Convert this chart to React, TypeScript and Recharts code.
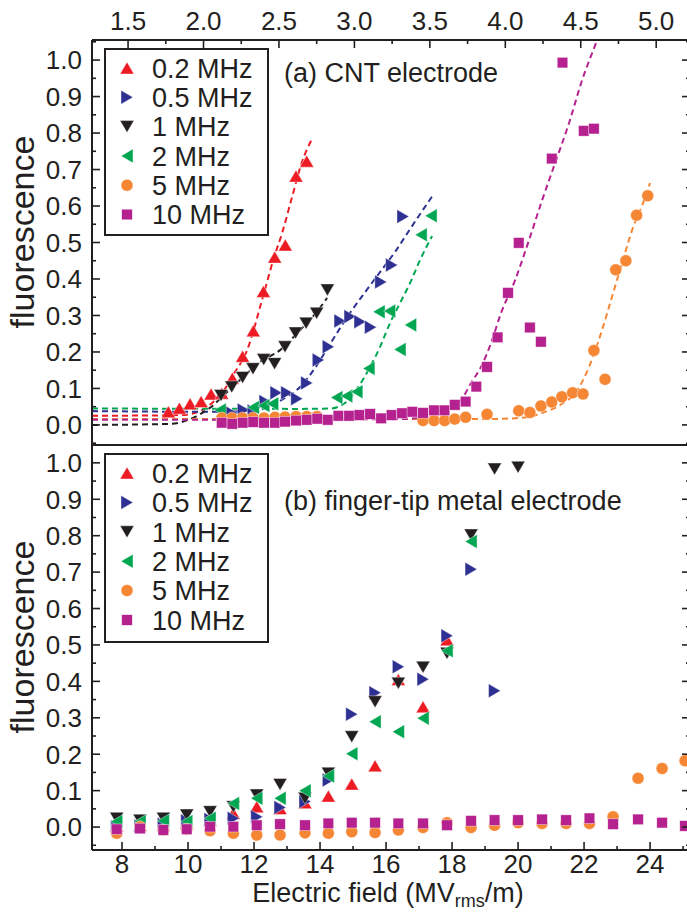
import React from 'react'
import { ComposedChart, Scatter, Line, XAxis, YAxis } from 'recharts'

const FONT = '"Liberation Sans", Arial, Helvetica, sans-serif'
const AXIS = '#231F20'

const RED = '#ED1C24'
const BLUE = '#2E3192'
const BLACK = '#231F20'
const GREEN = '#00A651'
const ORANGE = '#F58634'
const MAGENTA = '#B5218E'

const freqLabels = ['0.2 MHz', '0.5 MHz', '1 MHz', '2 MHz', '5 MHz', '10 MHz']

// axis ticks
const voltMajor = [1.5, 2.0, 2.5, 3.0, 3.5, 4.0, 4.5, 5.0]
const voltMinor = [1.75, 2.25, 2.75, 3.25, 3.75, 4.25, 4.75]
const fieldMajor = [8, 10, 12, 14, 16, 18, 20, 22, 24]
const fieldMinor = [9, 11, 13, 15, 17, 19, 21, 23, 25]
const fluorMajor = [0, 0.1, 0.2, 0.3, 0.4, 0.5, 0.6, 0.7, 0.8, 0.9, 1.0]
const fluorMinorTop = [-0.05, 0.05, 0.15, 0.25, 0.35, 0.45, 0.55, 0.65, 0.75, 0.85, 0.95, 1.05]
const fluorMinorBottom = [-0.05, 0.05, 0.15, 0.25, 0.35, 0.45, 0.55, 0.65, 0.75, 0.85, 0.95]

// (a) CNT electrode, plotted against the top (voltage) scale
const cntRedX = [1.767, 1.84, 1.911, 1.984, 2.05, 2.121, 2.191, 2.259, 2.33, 2.397, 2.472, 2.542, 2.613, 2.684]
const cntRedY = [0.036, 0.046, 0.058, 0.064, 0.085, 0.087, 0.128, 0.188, 0.258, 0.366, 0.46, 0.493, 0.682, 0.723]
const cntBlueX = [2.187, 2.264, 2.33, 2.408, 2.481, 2.552, 2.618, 2.684, 2.761, 2.827, 2.905, 2.971, 3.037, 3.107, 3.175, 3.247, 3.322]
const cntBlueY = [0.033, 0.041, 0.038, 0.064, 0.088, 0.088, 0.072, 0.115, 0.178, 0.214, 0.285, 0.297, 0.283, 0.268, 0.392, 0.438, 0.571]
const cntBlackX = [2.116, 2.187, 2.259, 2.328, 2.399, 2.471, 2.54, 2.61, 2.68, 2.75, 2.821]
const cntBlackY = [0.081, 0.104, 0.13, 0.154, 0.179, 0.168, 0.214, 0.252, 0.279, 0.306, 0.37]
const cntGreenX = [2.11, 2.33, 2.399, 2.458, 2.883, 2.949, 3.016, 3.096, 3.163, 3.233, 3.302, 3.372, 3.442, 3.508]
const cntGreenY = [0.041, 0.048, 0.053, 0.058, 0.075, 0.079, 0.091, 0.155, 0.31, 0.312, 0.207, 0.274, 0.521, 0.573]
const cntOrangeX = [2.121, 2.189, 2.259, 2.328, 2.401, 2.474, 2.54, 2.613, 2.684, 2.752, 3.455, 3.528, 3.598, 3.665, 3.737, 3.879, 4.089, 4.163, 4.236, 4.308, 4.375, 4.446, 4.515, 4.587, 4.661, 4.732, 4.799, 4.87, 4.944]
const cntOrangeY = [0.019, 0.019, 0.019, 0.019, 0.019, 0.021, 0.022, 0.023, 0.023, 0.023, 0.012, 0.012, 0.012, 0.016, 0.021, 0.029, 0.039, 0.034, 0.052, 0.063, 0.077, 0.088, 0.085, 0.204, 0.125, 0.425, 0.45, 0.575, 0.628]
const cntMagentaX = [2.121, 2.191, 2.26, 2.33, 2.401, 2.474, 2.54, 2.613, 2.684, 2.754, 2.823, 2.894, 2.965, 3.033, 3.104, 3.177, 3.246, 3.316, 3.384, 3.455, 3.528, 3.597, 3.665, 3.737, 3.808, 3.879, 3.949, 4.018, 4.089, 4.163, 4.236, 4.308, 4.379, 4.52, 4.587]
const cntMagentaY = [0.006, 0.003, 0.006, 0.008, 0.006, 0.006, 0.009, 0.012, 0.014, 0.017, 0.014, 0.025, 0.025, 0.027, 0.03, 0.018, 0.027, 0.032, 0.036, 0.033, 0.04, 0.04, 0.055, 0.064, 0.105, 0.159, 0.24, 0.362, 0.499, 0.267, 0.228, 0.73, 0.993, 0.806, 0.812]

// fitted curves (dashed)
const fitRedX = [1.261, 1.845, 1.977, 2.077, 2.143, 2.189, 2.289, 2.395, 2.468, 2.521, 2.587, 2.653, 2.719]
const fitRedY = [0.025, 0.027, 0.038, 0.068, 0.099, 0.132, 0.205, 0.353, 0.46, 0.526, 0.625, 0.721, 0.784]
const fitBlueX = [1.261, 1.977, 2.308, 2.441, 2.54, 2.64, 2.739, 2.839, 2.971, 3.071, 3.17, 3.269, 3.369, 3.521]
const fitBlueY = [0.038, 0.036, 0.038, 0.052, 0.074, 0.104, 0.156, 0.222, 0.307, 0.364, 0.419, 0.474, 0.537, 0.63]
const fitBlackX = [1.261, 1.778, 1.944, 2.043, 2.143, 2.242, 2.375, 2.507, 2.64, 2.739, 2.819]
const fitBlackY = [0.0, 0.003, 0.022, 0.047, 0.085, 0.123, 0.173, 0.205, 0.26, 0.304, 0.348]
const fitGreenX = [1.261, 2.64, 2.839, 2.938, 3.018, 3.104, 3.17, 3.236, 3.302, 3.369, 3.435, 3.515]
const fitGreenY = [0.045, 0.044, 0.045, 0.06, 0.099, 0.159, 0.214, 0.279, 0.334, 0.389, 0.452, 0.518]
const fitOrangeX = [1.261, 3.833, 4.098, 4.244, 4.376, 4.469, 4.555, 4.641, 4.707, 4.774, 4.847, 4.913, 4.959]
const fitOrangeY = [0.016, 0.016, 0.019, 0.033, 0.058, 0.09, 0.159, 0.26, 0.351, 0.444, 0.542, 0.608, 0.663]
const fitMagentaX = [1.261, 3.303, 3.501, 3.634, 3.707, 3.773, 3.839, 3.906, 3.972, 4.065, 4.151, 4.244, 4.33, 4.422, 4.509, 4.601, 4.628]
const fitMagentaY = [0.014, 0.016, 0.025, 0.047, 0.068, 0.115, 0.159, 0.225, 0.307, 0.397, 0.499, 0.616, 0.718, 0.827, 0.945, 1.047, 1.077]

// (b) finger-tip metal electrode, against electric field (MV/m)
const tipX = [7.839, 8.545, 9.252, 9.961, 10.667, 11.373, 12.082, 12.788, 13.545, 14.252, 14.961, 15.667, 16.373, 17.121, 17.848, 18.576, 19.288, 20.0, 20.727, 21.455, 22.164, 22.879, 23.636, 24.364, 25.06]
const tipRedY = [0.003, 0.005, 0.005, 0.011, 0.019, 0.038, 0.056, 0.051, 0.067, 0.085, 0.118, 0.168, 0.405, 0.33, 0.514]
const tipBlueY = [0.001, 0.003, 0.008, 0.017, 0.021, 0.024, 0.028, 0.054, 0.07, 0.129, 0.31, 0.369, 0.44, 0.406, 0.525, 0.708, 0.374]
const tipBlackY = [0.024, 0.019, 0.024, 0.033, 0.042, 0.056, 0.088, 0.117, 0.079, 0.148, 0.248, 0.344, 0.395, 0.439, 0.477, 0.802, 0.983, 0.988]
const tipGreenY = [0.015, 0.015, 0.017, 0.015, 0.024, 0.065, 0.079, 0.079, 0.1, 0.14, 0.201, 0.289, 0.262, 0.299, 0.484, 0.784]
const tipOrangeY = [-0.017, 0.001, -0.008, -0.006, -0.01, -0.017, -0.022, -0.022, -0.016, -0.017, -0.013, -0.015, -0.008, -0.001, 0.012, -0.001, 0.005, 0.012, 0.01, 0.01, 0.01, 0.028, 0.134, 0.161, 0.182]
const tipMagentaY = [-0.006, -0.004, -0.008, -0.006, 0.001, 0.001, 0.005, 0.008, 0.005, 0.01, 0.012, 0.012, 0.01, 0.01, 0.005, 0.017, 0.019, 0.019, 0.021, 0.019, 0.024, 0.008, 0.021, 0.012, 0.003]

const zip = (xs: number[], ys: number[]) => ys.map((y, i) => ({ x: xs[i], y }))

type Kind = 'up' | 'right' | 'down' | 'left' | 'circle' | 'square'

const kinds: Kind[] = ['up', 'right', 'down', 'left', 'circle', 'square']
const colors = [RED, BLUE, BLACK, GREEN, ORANGE, MAGENTA]

const cntPoints = [
  zip(cntRedX, cntRedY),
  zip(cntBlueX, cntBlueY),
  zip(cntBlackX, cntBlackY),
  zip(cntGreenX, cntGreenY),
  zip(cntOrangeX, cntOrangeY),
  zip(cntMagentaX, cntMagentaY),
]
const cntFits = [
  zip(fitRedX, fitRedY),
  zip(fitBlueX, fitBlueY),
  zip(fitBlackX, fitBlackY),
  zip(fitGreenX, fitGreenY),
  zip(fitOrangeX, fitOrangeY),
  zip(fitMagentaX, fitMagentaY),
]
const tipPoints = [tipRedY, tipBlueY, tipBlackY, tipGreenY, tipOrangeY, tipMagentaY].map((ys) => zip(tipX, ys))

function Marker({ kind, cx, cy, color }: { kind: Kind; cx: number; cy: number; color: string }) {
  const s = 14
  const h = 12
  const common = { fill: color, stroke: '#fff', strokeWidth: 0.6, strokeOpacity: 0.7 }
  switch (kind) {
    case 'up':
      return <polygon {...common} points={`${cx},${cy - h / 2} ${cx - s / 2},${cy + h / 2} ${cx + s / 2},${cy + h / 2}`} />
    case 'down':
      return <polygon {...common} points={`${cx},${cy + h / 2} ${cx - s / 2},${cy - h / 2} ${cx + s / 2},${cy - h / 2}`} />
    case 'right':
      return <polygon {...common} points={`${cx + h / 2},${cy} ${cx - h / 2},${cy - s / 2} ${cx - h / 2},${cy + s / 2}`} />
    case 'left':
      return <polygon {...common} points={`${cx - h / 2},${cy} ${cx + h / 2},${cy - s / 2} ${cx + h / 2},${cy + s / 2}`} />
    case 'circle':
      return <circle {...common} cx={cx} cy={cy} r={6} />
    default:
      return <rect {...common} x={cx - 5.3} y={cy - 5.3} width={10.6} height={10.6} />
  }
}

type Side = 'left' | 'right' | 'top' | 'bottom'

// inward ticks drawn by hand so the labels can sit outside the frame
function tickRenderer(side: Side, majors: number[], gap: number, fmt: ((v: number) => string) | null) {
  return (props: any) => {
    const { x, y, payload } = props
    const v = Number(payload.value)
    const isMajor = majors.some((m) => Math.abs(m - v) < 1e-6)
    const len = isMajor ? 8 : 4
    const ln = { stroke: AXIS, strokeWidth: 1.6 }
    const txt = { fontFamily: FONT, fontSize: 26, fill: '#231F20' }
    let line = null
    let label = null
    if (side === 'left') {
      const fx = x + gap
      line = <line {...ln} x1={fx} y1={y} x2={fx + len} y2={y} />
      if (fmt && isMajor) label = <text {...txt} x={x} y={y} dy="0.36em" textAnchor="end">{fmt(v)}</text>
    } else if (side === 'right') {
      const fx = x - gap
      line = <line {...ln} x1={fx} y1={y} x2={fx - len} y2={y} />
    } else if (side === 'top') {
      const fy = y + gap
      line = <line {...ln} x1={x} y1={fy} x2={x} y2={fy + len} />
      if (fmt && isMajor) label = <text {...txt} x={x} y={y} textAnchor="middle">{fmt(v)}</text>
    } else {
      const fy = y - gap
      line = <line {...ln} x1={x} y1={fy} x2={x} y2={fy - len} />
      if (fmt && isMajor) label = <text {...txt} x={x} y={y} dy="0.72em" textAnchor="middle">{fmt(v)}</text>
    }
    return (
      <g>
        {line}
        {label}
      </g>
    )
  }
}

const axisLine = { stroke: AXIS, strokeWidth: 2 }
const oneDecimal = (v: number) => v.toFixed(1)
const integer = (v: number) => String(Math.round(v))

const voltDomain: [number, number] = [1.261, 5.224]
const fieldDomain: [number, number] = [7.09, 25.21]
const cntFluorDomain: [number, number] = [-0.055, 1.055]
const tipFluorDomain: [number, number] = [-0.063, 1.049]

// axes are 1px thick so the plot box sits exactly inside the margins
function CntPanel() {
  return (
    <ComposedChart width={700} height={446} margin={{ top: 39, right: 9, bottom: 0, left: 91 }}>
      <XAxis
        xAxisId="v"
        dataKey="x"
        type="number"
        orientation="top"
        domain={voltDomain}
        allowDataOverflow
        ticks={[...voltMajor, ...voltMinor]}
        interval={0}
        height={1}
        tickSize={0}
        tickMargin={10}
        tickLine={false}
        axisLine={axisLine}
        tick={tickRenderer('top', voltMajor, 10, oneDecimal)}
      />
      <XAxis
        xAxisId="vb"
        type="number"
        orientation="bottom"
        domain={voltDomain}
        allowDataOverflow
        ticks={[...voltMajor, ...voltMinor]}
        interval={0}
        height={1}
        tickSize={0}
        tickMargin={0}
        tickLine={false}
        axisLine={axisLine}
        tick={tickRenderer('bottom', voltMajor, 0, null)}
      />
      <YAxis
        yAxisId="f"
        dataKey="y"
        type="number"
        domain={cntFluorDomain}
        allowDataOverflow
        ticks={[...fluorMajor, ...fluorMinorTop]}
        interval={0}
        width={1}
        tickSize={0}
        tickMargin={10}
        tickLine={false}
        axisLine={axisLine}
        tick={tickRenderer('left', fluorMajor, 10, oneDecimal)}
      />
      <YAxis
        yAxisId="fr"
        type="number"
        orientation="right"
        domain={cntFluorDomain}
        allowDataOverflow
        ticks={[...fluorMajor, ...fluorMinorTop]}
        interval={0}
        width={1}
        tickSize={0}
        tickMargin={0}
        tickLine={false}
        axisLine={axisLine}
        tick={tickRenderer('right', fluorMajor, 0, null)}
      />
      {cntFits.map((d, i) => (
        <Line
          key={`fit-${i}`}
          xAxisId="v"
          yAxisId="f"
          data={d}
          dataKey="y"
          type="monotone"
          stroke={colors[i]}
          strokeWidth={2}
          strokeDasharray="6 4"
          dot={false}
          activeDot={false}
          isAnimationActive={false}
        />
      ))}
      {cntPoints.map((d, i) => (
        <Scatter
          key={`pts-${i}`}
          name={freqLabels[i]}
          xAxisId="v"
          yAxisId="f"
          data={d}
          isAnimationActive={false}
          shape={(p: any) => <Marker kind={kinds[i]} cx={p.cx} cy={p.cy} color={colors[i]} />}
        />
      ))}
    </ComposedChart>
  )
}

function TipPanel() {
  return (
    <ComposedChart width={700} height={473} margin={{ top: 4, right: 9, bottom: 62, left: 91 }}>
      <XAxis
        xAxisId="e"
        dataKey="x"
        type="number"
        orientation="bottom"
        domain={fieldDomain}
        allowDataOverflow
        ticks={[...fieldMajor, ...fieldMinor]}
        interval={0}
        height={1}
        tickSize={0}
        tickMargin={4}
        tickLine={false}
        axisLine={axisLine}
        tick={tickRenderer('bottom', fieldMajor, 4, integer)}
      />
      <XAxis
        xAxisId="et"
        type="number"
        orientation="top"
        domain={fieldDomain}
        allowDataOverflow
        ticks={[...fieldMajor, ...fieldMinor]}
        interval={0}
        height={1}
        tickSize={0}
        tickMargin={0}
        tickLine={false}
        axisLine={axisLine}
        tick={tickRenderer('top', fieldMajor, 0, null)}
      />
      <YAxis
        yAxisId="f"
        dataKey="y"
        type="number"
        domain={tipFluorDomain}
        allowDataOverflow
        ticks={[...fluorMajor, ...fluorMinorBottom]}
        interval={0}
        width={1}
        tickSize={0}
        tickMargin={10}
        tickLine={false}
        axisLine={axisLine}
        tick={tickRenderer('left', fluorMajor, 10, oneDecimal)}
      />
      <YAxis
        yAxisId="fr"
        type="number"
        orientation="right"
        domain={tipFluorDomain}
        allowDataOverflow
        ticks={[...fluorMajor, ...fluorMinorBottom]}
        interval={0}
        width={1}
        tickSize={0}
        tickMargin={0}
        tickLine={false}
        axisLine={axisLine}
        tick={tickRenderer('right', fluorMajor, 0, null)}
      />
      {tipPoints.map((d, i) => (
        <Scatter
          key={`tip-${i}`}
          name={freqLabels[i]}
          xAxisId="e"
          yAxisId="f"
          data={d}
          isAnimationActive={false}
          shape={(p: any) => <Marker kind={kinds[i]} cx={p.cx} cy={p.cy} color={colors[i]} />}
        />
      ))}
    </ComposedChart>
  )
}

function LegendBox({ x, y, w, h, first, step }: { x: number; y: number; w: number; h: number; first: number; step: number }) {
  return (
    <g>
      <rect x={x} y={y} width={w} height={h} fill="#fff" stroke={AXIS} strokeWidth={2} />
      {freqLabels.map((label, i) => {
        const cy = first + i * step
        return (
          <g key={label}>
            <Marker kind={kinds[i]} cx={x + 22} cy={cy} color={colors[i]} />
            <text x={x + 47} y={cy} dy="0.36em" fontFamily={FONT} fontSize={27} fill="#231F20">
              {label}
            </text>
          </g>
        )
      })}
    </g>
  )
}

export default function App() {
  const txt = { fontFamily: FONT, fontSize: 27, fill: '#231F20' }
  const ylab = { fontFamily: FONT, fontSize: 34, fill: '#231F20' }
  return (
    <div style={{ position: 'absolute', left: 0, top: 0, width: 687, height: 913, overflow: 'hidden', background: '#fff' }}>
      <div style={{ position: 'absolute', left: 0, top: 0 }}>
        <CntPanel />
      </div>
      <div style={{ position: 'absolute', left: 0, top: 440 }}>
        <TipPanel />
      </div>
      <svg width={687} height={913} style={{ position: 'absolute', left: 0, top: 0, pointerEvents: 'none' }}>
        <LegendBox x={105} y={49} w={163} h={186} first={68} step={29.3} />
        <LegendBox x={105} y={454} w={163} h={188} first={473} step={29.4} />
        <text {...txt} x={284} y={72} dy="0.36em">(a) CNT electrode</text>
        <text {...txt} x={284} y={500} dy="0.36em">(b) finger-tip metal electrode</text>
        <text {...ylab} transform="translate(34,232) rotate(-90)" textAnchor="middle">fluorescence</text>
        <text {...ylab} transform="translate(34,637) rotate(-90)" textAnchor="middle">fluorescence</text>
        <text {...txt} x={388} y={902} textAnchor="middle">
          Electric field (MV
          <tspan fontSize={18} dy={5}>rms</tspan>
          <tspan dy={-5}>/m)</tspan>
        </text>
      </svg>
    </div>
  )
}
